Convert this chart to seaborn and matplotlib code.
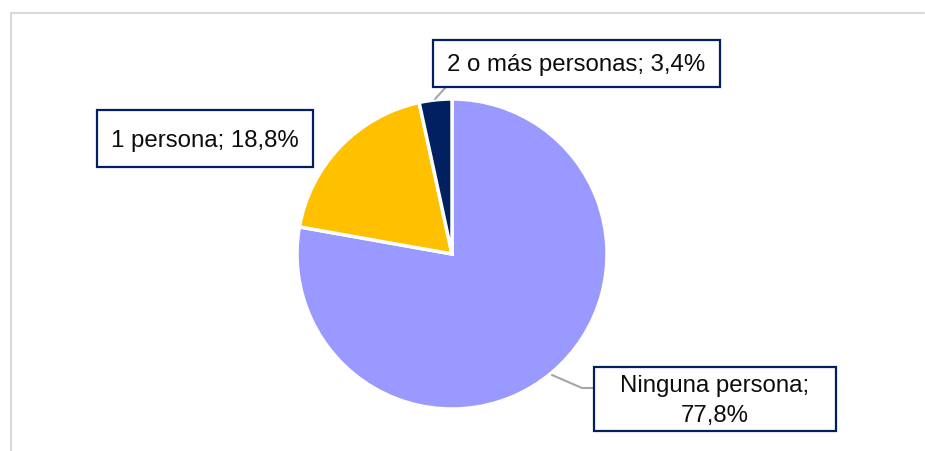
import matplotlib
matplotlib.use("Agg")
import matplotlib.pyplot as plt
import seaborn as sns
from matplotlib.patches import Rectangle

# datos
categorias = ["Ninguna persona", "1 persona", "2 o más personas"]
porcentajes = [77.8, 18.8, 3.4]
etiquetas = ["Ninguna persona;\n77,8%", "1 persona; 18,8%", "2 o más personas; 3,4%"]
colores = ["#9999FF", "#FFC000", "#002060"]

sns.set_theme(style="white")
plt.rcParams["font.family"] = ["Liberation Sans", "DejaVu Sans"]

W, H = 925, 452
fig = plt.figure(figsize=(W / 100, H / 100), dpi=100)
ax = fig.add_axes([0, 0, 1, 1])

# pastel (coordenadas en pixeles, y hacia arriba)
cx, cy, r = 452, H - 255, 155
ax.pie(porcentajes, colors=colores, startangle=90, counterclock=False,
       center=(cx, cy), radius=r,
       wedgeprops=dict(edgecolor="white", linewidth=2.5))
ax.set_xlim(0, W)
ax.set_ylim(0, H)
ax.set_aspect("auto")
ax.axis("off")

# marco gris del area del grafico
ax.plot([10.5, 10.5, 924], [-5, H - 13.5, H - 13.5], color="#D9D9D9", lw=1.5,
        solid_joinstyle="miter", clip_on=False)

# cajas de etiquetas: (x0, y0 arriba, x1, y1 abajo) en pixeles
cajas = [(594, 368, 836, 432), (97, 111, 313, 168), (433, 41, 720, 88)]
for etiqueta, (x0, y0, x1, y1) in zip(etiquetas, cajas):
    ax.add_patch(Rectangle((x0, H - y1), x1 - x0, y1 - y0, facecolor="white",
                           edgecolor="#002060", lw=1.6, zorder=5))
    ax.text((x0 + x1) / 2, H - (y0 + y1) / 2 - 1, etiqueta, ha="center", va="center",
            fontsize=17.3, color="#0D0D0D", linespacing=1.45, zorder=6)

# lineas guia
ax.plot([552, 582, 594], [H - 376, H - 389, H - 389], color="#A6A6A6", lw=1.5, zorder=4)
ax.plot([435, 446], [H - 100, H - 88], color="#A6A6A6", lw=1.5, zorder=4)

fig.savefig("out.png", dpi=100, facecolor="white")
